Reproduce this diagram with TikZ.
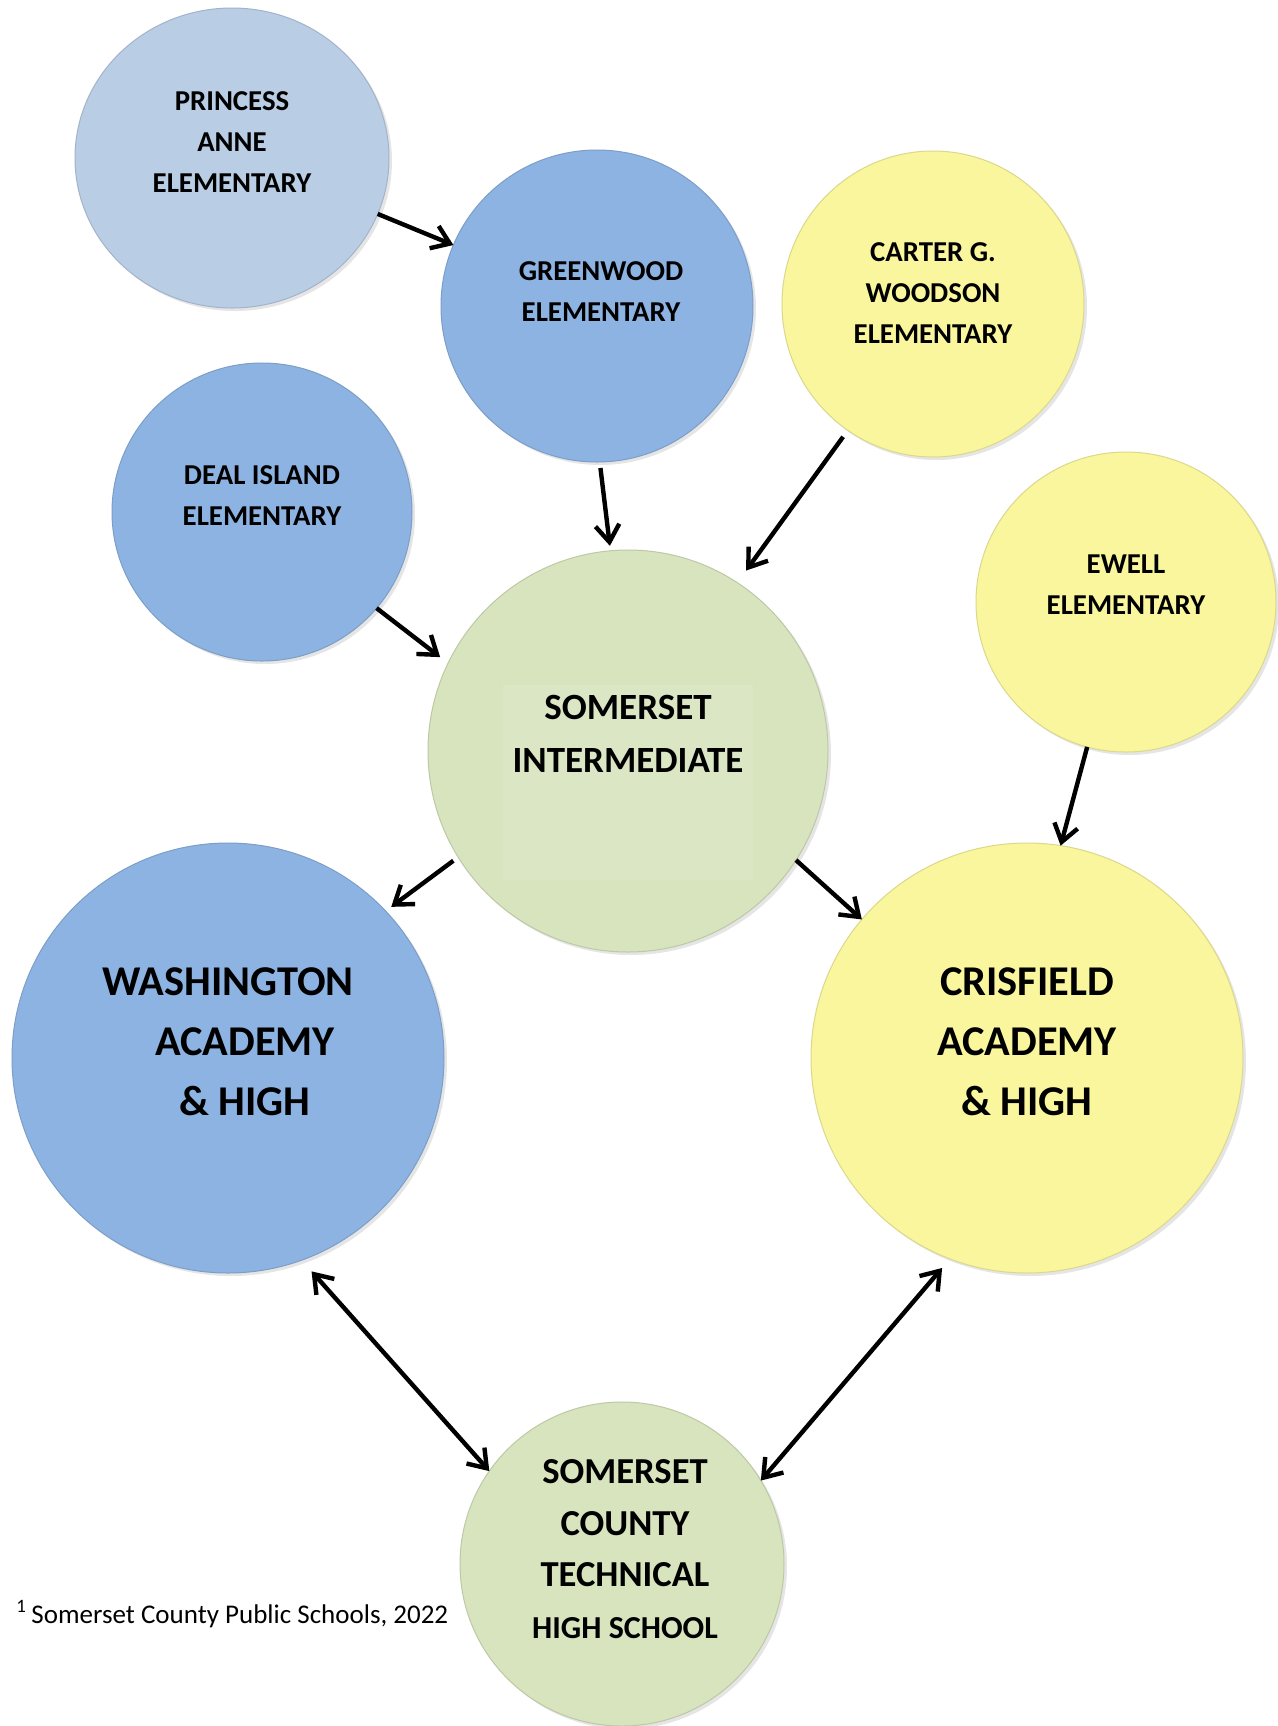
\documentclass[tikz,border=0pt]{standalone}
\usepackage{fontspec}
\setmainfont{Carlito}
\usetikzlibrary{arrows.meta,shapes.geometric,shadows}
\definecolor{sc_pale}{RGB}{185, 205, 229}
\definecolor{sc_blue}{RGB}{141, 179, 226}
\definecolor{sc_yellow}{RGB}{249, 246, 158}
\definecolor{sc_green}{RGB}{215, 228, 189}
\tikzstyle{school}=[ellipse,line width=0.5pt,inner sep=0pt,outer sep=0pt,
  drop shadow={shadow xshift=1.5pt,shadow yshift=-1.5pt,opacity=0.2}]
\tikzstyle{pn}=[school,fill=sc_pale,draw=sc_pale!88!black]
\tikzstyle{bn}=[school,fill=sc_blue,draw=sc_blue!88!black]
\tikzstyle{yn}=[school,fill=sc_yellow,draw=sc_yellow!88!black]
\tikzstyle{gn}=[school,fill=sc_green,draw=sc_green!88!black]
\tikzstyle{sm}=[align=center,inner sep=0pt,font=\bfseries\fontsize{14.4}{20.5}\selectfont]
\tikzstyle{md}=[align=center,inner sep=0pt,font=\bfseries\fontsize{18.5}{26.75}\selectfont]
\tikzstyle{lg}=[align=center,inner sep=0pt,font=\bfseries\fontsize{21.2}{30}\selectfont]
\tikzstyle{fn}=[inner sep=0pt,font=\fontsize{13.5}{16}\selectfont]
\tikzstyle{arr}=[line width=2.2pt,-{Straight Barb[length=8.5pt,width=12pt]}]
\tikzstyle{darr}=[line width=2.2pt,{Straight Barb[length=8.5pt,width=12pt]}-{Straight Barb[length=8.5pt,width=12pt]}]

\begin{document}
\begin{tikzpicture}[x=0.5pt, y=-0.5pt]
            \useasboundingbox (0, 0) rectangle (1278, 1726);
            \fill [white] (0, 0) rectangle (1278, 1726);
            % schools
            \node [style=pn, minimum width=157pt, minimum height=150pt] (0) at (232, 158) {};
            \node [style=bn, minimum width=156pt, minimum height=156pt] (1) at (597, 306) {};
            \node [style=yn, minimum width=151pt, minimum height=153pt] (2) at (933, 304) {};
            \node [style=bn, minimum width=150pt, minimum height=149pt] (3) at (262, 512) {};
            \node [style=yn, minimum width=150pt, minimum height=150pt] (4) at (1126, 602) {};
            \node [style=gn, minimum width=200pt, minimum height=201pt] (5) at (628, 751) {};
            \node [style=bn, minimum width=216pt, minimum height=215pt] (6) at (228, 1058) {};
            \node [style=yn, minimum width=216pt, minimum height=215pt] (7) at (1027, 1058) {};
            \node [style=gn, minimum width=162pt, minimum height=162pt] (8) at (622, 1564) {};
            \fill [sc_green!90!white] (503, 685) rectangle (753, 880);
            % names
            \node [style=sm] (10) at (232, 142) {PRINCESS\\ANNE\\ELEMENTARY};
            \node [style=sm] (11) at (601, 292) {GREENWOOD\\ELEMENTARY};
            \node [style=sm] (12) at (933, 293) {CARTER G.\\WOODSON\\ELEMENTARY};
            \node [style=sm] (13) at (262, 496) {DEAL ISLAND\\ELEMENTARY};
            \node [style=sm] (14) at (1126, 585) {EWELL\\ELEMENTARY};
            \node [style=md] (15) at (628, 734) {SOMERSET\\INTERMEDIATE};
            \node [style=lg] (16) at (228, 1042) {WASHINGTON\\\hspace*{17pt}ACADEMY\\\hspace*{17pt}\& HIGH};
            \node [style=lg] (17) at (1027, 1042) {CRISFIELD\\ACADEMY\\\& HIGH};
            \node [style=md, font=\bfseries\fontsize{18.3}{25.7}\selectfont] (18) at (625, 1549)
                {SOMERSET\\COUNTY\\TECHNICAL\\{\fontsize{16}{25.7}\selectfont HIGH SCHOOL}};
            \node [style=fn, anchor=base west] (19) at (16, 1623) {\textsuperscript{1}\,Somerset County Public Schools, 2022};
            % feeders
            \draw [style=arr] (0.-21) to (1.157);
            \draw [style=arr, shorten <=3pt, shorten >=2.5pt] (1.-89) to (5.95);
            \draw [style=arr, shorten <=4pt, shorten >=7.5pt] (2.-124) to (5.57);
            \draw [style=arr, shorten >=5pt] (3.-40) to (5.154);
            \draw [style=arr] (4.-105) to (7.81);
            \draw [style=arr, shorten <=3pt, shorten >=3.5pt] (5.-148) to (6.43);
            \draw [style=arr] (5.-33) to (7.140);
            \draw [style=darr, shorten <=7.5pt] (6.-70) to (8.145);
            \draw [style=darr, shorten <=6pt] (7.-111) to (8.31);
\end{tikzpicture}
\end{document}
